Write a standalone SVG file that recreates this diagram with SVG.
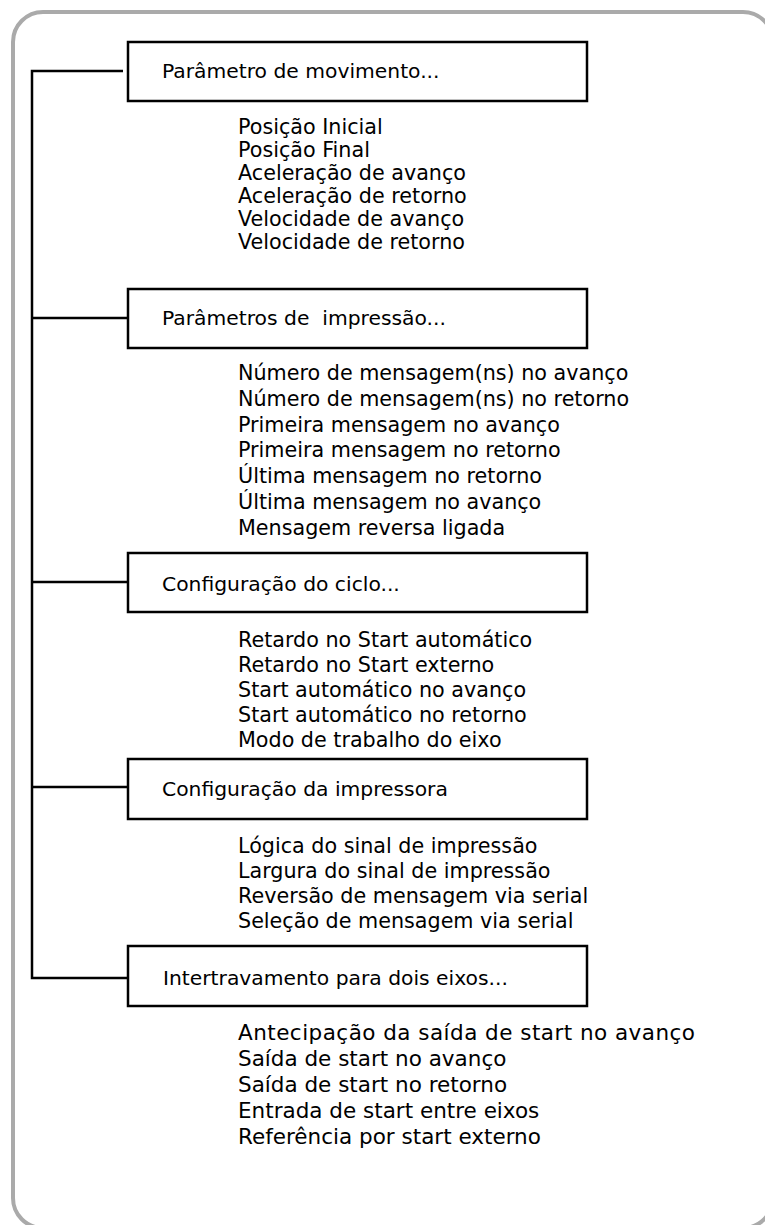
<svg xmlns="http://www.w3.org/2000/svg" width="765" height="1225" viewBox="0 0 765 1225">
<style>
.frame{fill:#fff;stroke:#aaa;stroke-width:4}
.box{fill:#fff;stroke:#000;stroke-width:2.5}
.conn{fill:none;stroke:#000;stroke-width:2.5}
text{font-family:"DejaVu Sans",Verdana,sans-serif;font-size:20.3px;fill:#000}
.item{font-size:20.7px}
.item5{font-size:21.5px}
</style>
<rect class="frame" x="13" y="12" width="760" height="1216" rx="30"/>
<g id="connectors">
<polyline class="conn" points="123,71 32,71 32,978 128,978"/>
<line class="conn" x1="32" y1="318" x2="128" y2="318"/>
<line class="conn" x1="32" y1="582" x2="128" y2="582"/>
<line class="conn" x1="32" y1="787" x2="128" y2="787"/>
</g>
<g id="n1">
<rect class="box" x="128" y="42" width="459" height="59"/>
<text x="162" y="78">Parâmetro de movimento...</text>
<text class="item" x="238" y="134">Posição Inicial</text>
<text class="item" x="238" y="157">Posição Final</text>
<text class="item" x="238" y="180">Aceleração de avanço</text>
<text class="item" x="238" y="203">Aceleração de retorno</text>
<text class="item" x="238" y="226">Velocidade de avanço</text>
<text class="item" x="238" y="249">Velocidade de retorno</text>
</g>
<g id="n2">
<rect class="box" x="128" y="289" width="459" height="59"/>
<text x="162" y="325" xml:space="preserve">Parâmetros de  impressão...</text>
<text class="item" x="238" y="380">Número de mensagem(ns) no avanço</text>
<text class="item" x="238" y="406">Número de mensagem(ns) no retorno</text>
<text class="item" x="238" y="432">Primeira mensagem no avanço</text>
<text class="item" x="238" y="457">Primeira mensagem no retorno</text>
<text class="item" x="238" y="483">Última mensagem no retorno</text>
<text class="item" x="238" y="509">Última mensagem no avanço</text>
<text class="item" x="238" y="535">Mensagem reversa ligada</text>
</g>
<g id="n3">
<rect class="box" x="128" y="553" width="459" height="59"/>
<text x="162" y="591">Configuração do ciclo...</text>
<text class="item" x="238" y="647">Retardo no Start automático</text>
<text class="item" x="238" y="672">Retardo no Start externo</text>
<text class="item" x="238" y="697">Start automático no avanço</text>
<text class="item" x="238" y="722">Start automático no retorno</text>
<text class="item" x="238" y="747">Modo de trabalho do eixo</text>
</g>
<g id="n4">
<rect class="box" x="128" y="759" width="459" height="60"/>
<text x="162" y="796">Configuração da impressora</text>
<text class="item" x="238" y="853">Lógica do sinal de impressão</text>
<text class="item" x="238" y="878">Largura do sinal de impressão</text>
<text class="item" x="238" y="903">Reversão de mensagem via serial</text>
<text class="item" x="238" y="928">Seleção de mensagem via serial</text>
</g>
<g id="n5">
<rect class="box" x="128" y="946" width="459" height="60"/>
<text x="163" y="985">Intertravamento para dois eixos...</text>
<text class="item5" x="238" y="1040" textLength="457">Antecipação da saída de start no avanço</text>
<text class="item5" x="238" y="1066">Saída de start no avanço</text>
<text class="item5" x="238" y="1092">Saída de start no retorno</text>
<text class="item5" x="238" y="1118">Entrada de start entre eixos</text>
<text class="item5" x="238" y="1144">Referência por start externo</text>
</g>
</svg>
